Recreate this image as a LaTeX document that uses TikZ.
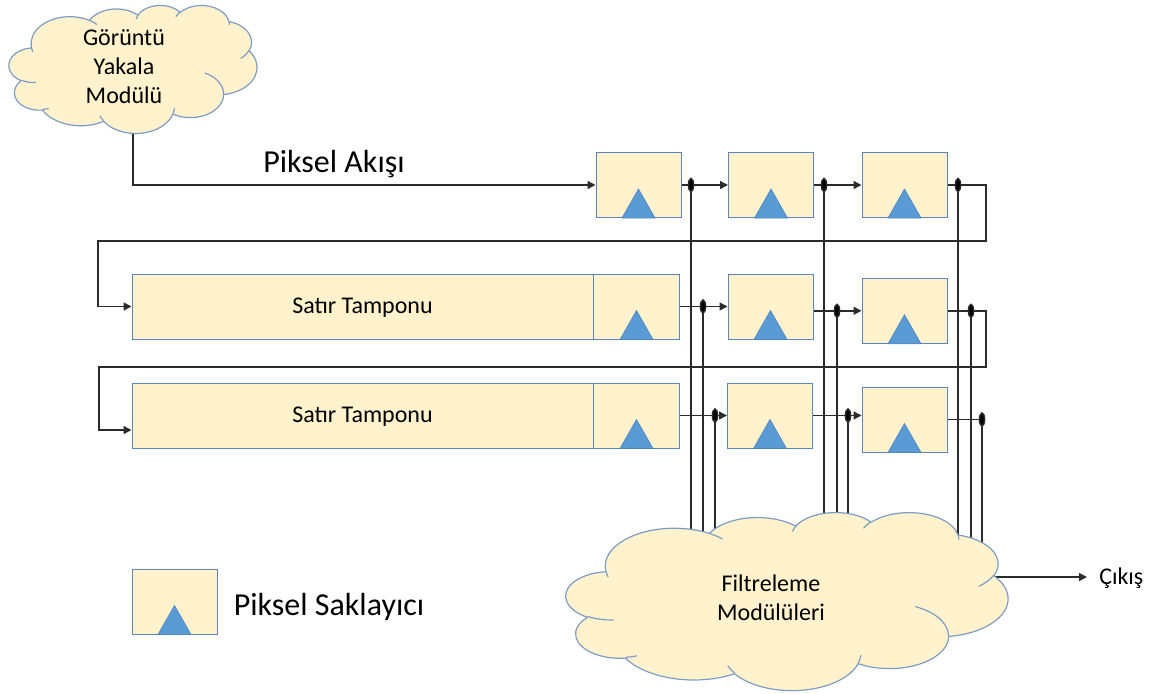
\documentclass[tikz,border=0pt]{standalone}
\usepackage{fontspec}
\setmainfont{Carlito}
\usetikzlibrary{arrows.meta}

\definecolor{regfill}{HTML}{FFF2CC}
\definecolor{regline}{HTML}{5B84B8}
\definecolor{trifill}{HTML}{5B9BD5}
\definecolor{triline}{HTML}{4F88C0}
\definecolor{cloudline}{HTML}{7E9CC3}
\definecolor{wire}{HTML}{2B2B2B}

% Office-style cloud: path given on a 432 x 432 grid, drawn into a frame
% (left, top, width, height) measured in picture units (1 unit = 0.75pt, y down)
\newcommand{\cloudframe}[4]{\def\cbx{#1}\def\cby{#2}\def\cbw{#3}\def\cbh{#4}}
\newcommand{\cmv}[2]{%
  \pgfmathsetmacro\cpx{0.75*(\cbx+(#1)/432*\cbw)}%
  \pgfmathsetmacro\cpy{-0.75*(\cby+(#2)/432*\cbh)}%
  \pgfpathmoveto{\pgfpoint{\cpx pt}{\cpy pt}}}
% elliptic arc: radii, start angle and sweep given as visual angles
\newcommand{\carc}[4]{%
  \pgfmathsetmacro\cta{atan2((#1)*sin(#3),(#2)*cos(#3))}%
  \pgfmathsetmacro\ctb{atan2((#1)*sin((#3)+(#4)),(#2)*cos((#3)+(#4)))}%
  \pgfmathsetmacro\ctd{(\ctb)-(\cta)}%
  \pgfmathsetmacro\ctd{(\ctd)+360*((#4)>0)*((\ctd)<0)-360*((#4)<0)*((\ctd)>0)}%
  \pgfmathsetmacro\crx{0.75*(#1)/432*\cbw}%
  \pgfmathsetmacro\cry{0.75*(#2)/432*\cbh}%
  \pgfmathsetmacro\csa{-(\cta)}%
  \pgfmathsetmacro\cse{-(\cta)-(\ctd)}%
  \pgfpatharc{\csa}{\cse}{\crx pt and \cry pt}}
\newcommand{\cloudbody}[4]{%
  \cloudframe{#1}{#2}{#3}{#4}%
  \begin{pgfscope}
  \pgfsetfillcolor{regfill}\pgfsetstrokecolor{cloudline}\pgfsetlinewidth{0.9pt}%
  \pgfsetroundjoin
  \cmv{39.00}{143.70}%
  \carc{67.53}{91.90}{-190.4875}{123.7805}%
  \carc{53.33}{72.67}{-144.1024}{89.9452}%
  \carc{43.65}{59.45}{-145.8079}{99.7230}%
  \carc{48.57}{65.95}{-130.9861}{117.2417}%
  \carc{53.33}{72.73}{-78.7089}{109.0269}%
  \carc{67.75}{92.20}{-46.2673}{130.2690}%
  \carc{57.85}{78.67}{0.6250}{114.0333}%
  \carc{67.52}{92.15}{22.4516}{115.1726}%
  \carc{77.20}{105.43}{66.2426}{75.7110}%
  \carc{43.60}{59.18}{-274.9421}{146.7356}%
  \carc{43.45}{59.45}{-246.8285}{152.5189}%
  \pgfpathclose
  \pgfusepath{fill,stroke}%
  \cmv{46.93}{261.77}\carc{43.45}{59.45}{86.7420}{26.4295}%
  \cmv{69.28}{348.99}\carc{43.60}{59.18}{73.6105}{11.4475}%
  \cmv{164.78}{390.90}\carc{67.52}{92.15}{137.6242}{14.0811}%
  \cmv{288.27}{347.51}\carc{67.52}{92.15}{6.4533}{15.9984}%
  \cmv{341.29}{229.54}\carc{57.85}{78.67}{-70.2924}{70.9174}%
  \cmv{417.98}{153.54}\carc{53.33}{72.73}{30.3180}{27.7515}%
  \cmv{383.24}{54.26}\carc{48.57}{65.95}{-13.7443}{14.8589}%
  \cmv{290.78}{39.52}\carc{48.57}{65.95}{-149.1815}{18.1954}%
  \cmv{221.41}{47.20}\carc{43.65}{59.45}{-163.4943}{17.6864}%
  \cmv{140.00}{51.92}\carc{67.53}{91.90}{-66.7070}{12.3194}%
  \cmv{41.27}{157.89}\carc{67.53}{91.90}{157.6544}{11.8582}%
  \pgfusepath{stroke}%
  \end{pgfscope}}

\begin{document}
\begin{tikzpicture}[x=0.75pt,y=-0.75pt,
  reg/.style={draw=regline, fill=regfill, line width=0.75pt,
    minimum width=63.75pt, minimum height=48.75pt, inner sep=0pt},
  linebuf/.style={reg, minimum width=410.25pt},
  tri/.style={fill=trifill, draw=triline, line width=0.5pt},
  wire/.style={draw=wire, line width=1.1pt},
  arr/.style={wire, -{Triangle[length=6pt,width=6pt]}},
  txt/.style={inner sep=0pt, font=\fontsize{18}{21.75}\selectfont},
  bigtxt/.style={inner sep=0pt, font=\fontsize{24}{28}\selectfont},
  cloudtext/.style={txt, align=center}]

\useasboundingbox (0,0) rectangle (1157,693);

% pixel registers
\node[reg] (r11) at (638.5,185) {};
\node[reg] (r12) at (771,185) {};
\node[reg] (r13) at (904.5,185) {};
\node[linebuf] (sat1) at (405.5,306.5) {};
\node[reg] (r22) at (770.5,306.5) {};
\node[reg] (r23) at (904.5,310.8) {};
\node[linebuf] (sat2) at (405.5,415.5) {};
\node[reg] (r32) at (770,415.5) {};
\node[reg] (r33) at (904.5,419.5) {};
\node[reg] (leg) at (174.5,601.5) {};

% register cells at the end of the line buffers
\draw[regline, line width=0.75pt] (sat1.north east) ++(-86,0) -- ++(0,65);
\draw[regline, line width=0.75pt] (sat2.north east) ++(-86,0) -- ++(0,65);

% clock triangles
\foreach \b in {r11,r12,r13,r22,r23,r32,r33,leg}
  \filldraw[tri] (\b.south) ++(-16.5,0) -- ++(33,0) -- ++(-16.5,-29) -- cycle;
\foreach \b in {sat1,sat2}
  \filldraw[tri] (\b.south east) ++(-59.5,0) -- ++(33,0) -- ++(-16.5,-29) -- cycle;

% labels
\node[txt, anchor=base] (buf1) at (362.5,313.3) {Satır Tamponu};
\node[txt, anchor=base] (buf2) at (362.5,422.3) {Satır Tamponu};
\node[bigtxt, anchor=base] (flow) at (334,172.3) {Piksel Akışı};
\node[bigtxt, anchor=base] (legtxt) at (329,615) {Piksel Saklayıcı};
\node[txt, anchor=base west] (out) at (1099,584) {Çıkış};

% tap points
\coordinate (d11) at (691,185);
\coordinate (d12) at (824,185);
\coordinate (d13) at (958,185);
\coordinate (d21) at (703,306.5);
\coordinate (d22) at (837,310.8);
\coordinate (d23) at (971,310.8);
\coordinate (d31) at (715,415.5);
\coordinate (d32) at (848,415.5);
\coordinate (d33) at (982,419.5);

% bends of the wrap-around wires
\coordinate (capout) at (133,110);
\coordinate (capbend) at (133,185);
\coordinate (w1a) at (986,185);
\coordinate (w1b) at (986,241);
\coordinate (w1c) at (98,241);
\coordinate (w1d) at (98,306.5);
\coordinate (w2a) at (986,310.8);
\coordinate (w2b) at (986,367);
\coordinate (w2c) at (99,367);
\coordinate (w2d) at (99,430);
\coordinate (fin) at (0,570);
\coordinate (fout) at (990,577);

% pixel stream
\draw[arr] (capout) -- (capbend) -- (r11.west);
\draw[arr] (r11.east) -- (r12.west);
\draw[arr] (r12.east) -- (r13.west);
\draw[arr] (r13.east) -- (w1a) -- (w1b) -- (w1c) -- (w1d) -- (sat1.west);
\draw[arr] (sat1.east) -- (r22.west);
\draw[arr] (r22.east |- r23.west) -- (r23.west);
\draw[arr] (r23.east) -- (w2a) -- (w2b) -- (w2c) -- (w2d) -- (sat2.west |- w2d);
\draw[arr] (sat2.east) -- (r32.west);
\draw[arr] (r32.east) -- (r33.west |- r32.east);
\draw[wire] (r33.east) -- (d33);

% taps into the filter modules
\foreach \d in {d11,d12,d13,d21,d22,d23,d31,d32,d33}
  \draw[wire] (\d) -- (\d |- fin);
\draw[arr, shorten >=9pt] (fout) -- (out.west |- fout);

\foreach \d in {d11,d12,d13,d21,d22,d23,d31,d32,d33}
  \fill[wire] (\d) ellipse [x radius=2.6, y radius=6.5];

% clouds
\cloudbody{9}{5}{248}{128}
\cloudbody{566}{512}{442}{178}

\node[cloudtext] (captxt) at (124,67) {Görüntü\\Yakala\\Modülü};
\node[cloudtext] (filttxt) at (771,598) {Filtreleme\\Modülüleri};
\end{tikzpicture}
\end{document}
